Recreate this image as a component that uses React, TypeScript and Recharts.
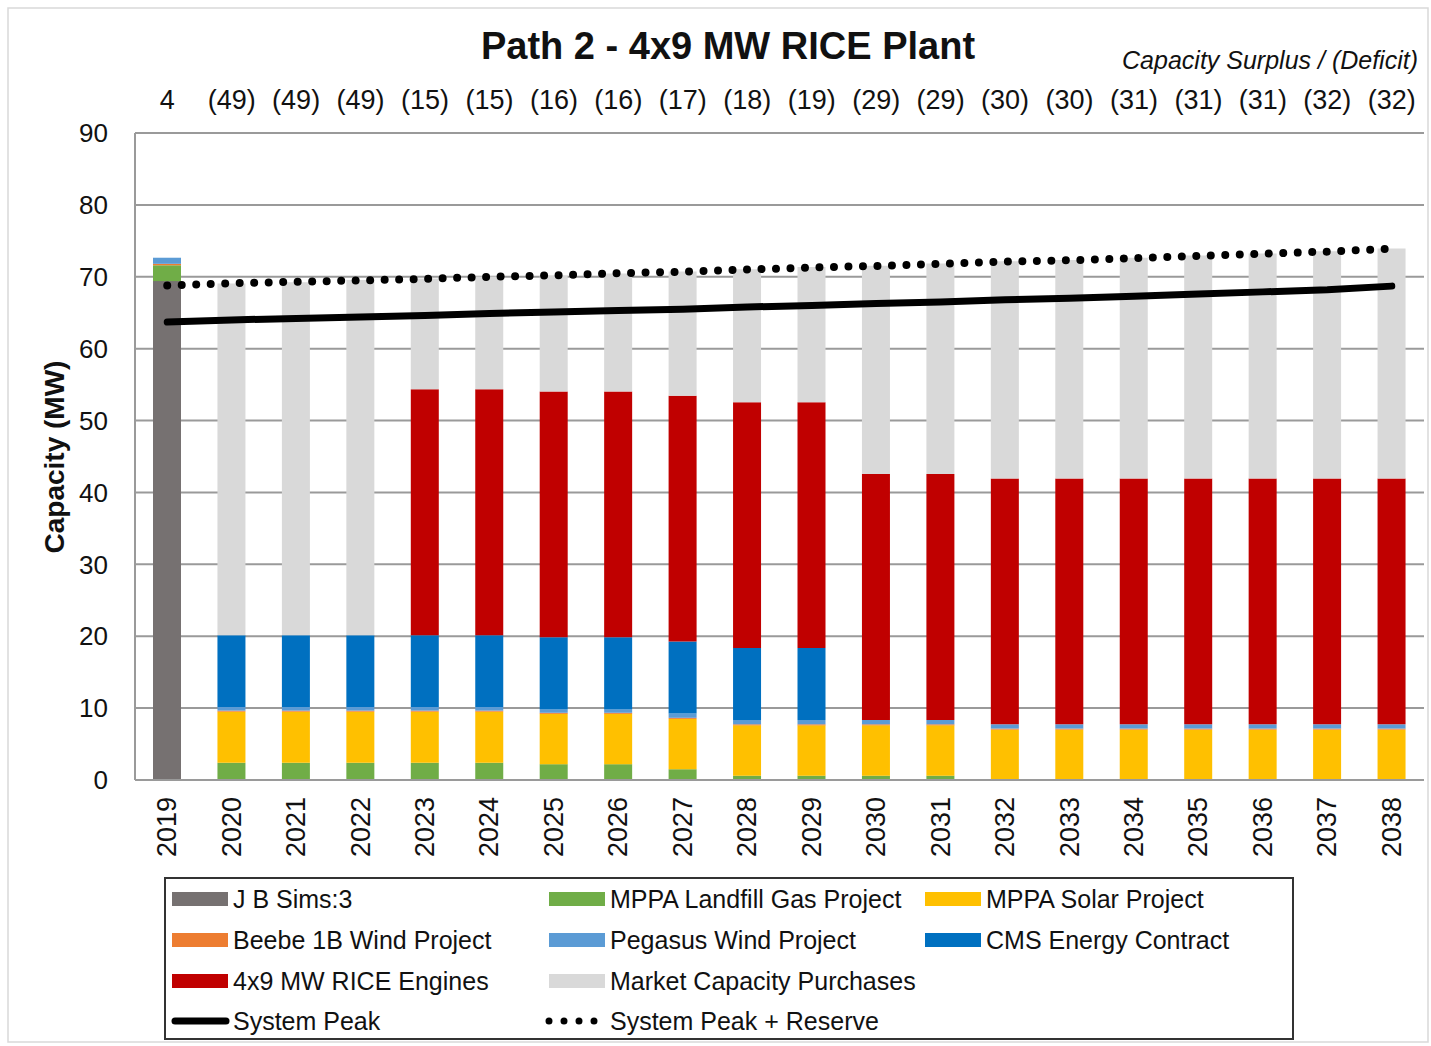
import { ComposedChart, Bar, Line, XAxis, YAxis, CartesianGrid } from "recharts";

const FONT = '"Liberation Sans", Arial, sans-serif';

const years = ["2019", "2020", "2021", "2022", "2023", "2024", "2025", "2026", "2027", "2028", "2029", "2030", "2031", "2032", "2033", "2034", "2035", "2036", "2037", "2038"];
const surplusLabels = ["4", "(49)", "(49)", "(49)", "(15)", "(15)", "(16)", "(16)", "(17)", "(18)", "(19)", "(29)", "(29)", "(30)", "(30)", "(31)", "(31)", "(31)", "(32)", "(32)"];

const jbSims = [69.4, 0, 0, 0, 0, 0, 0, 0, 0, 0, 0, 0, 0, 0, 0, 0, 0, 0, 0, 0];
const landfill = [2.2, 2.4, 2.4, 2.4, 2.4, 2.4, 2.2, 2.2, 1.5, 0.6, 0.6, 0.6, 0.6, 0, 0, 0, 0, 0, 0, 0];
const solar = [0, 7.1, 7.1, 7.1, 7.1, 7.1, 7.0, 7.0, 7.0, 7.0, 7.0, 7.0, 7.0, 7.0, 7.0, 7.0, 7.0, 7.0, 7.0, 7.0];
const beebe = [0.2, 0.15, 0.15, 0.15, 0.15, 0.15, 0.15, 0.15, 0.15, 0.15, 0.15, 0.15, 0.15, 0.15, 0.15, 0.15, 0.15, 0.15, 0.15, 0.15];
const pegasus = [0.85, 0.5, 0.5, 0.5, 0.5, 0.5, 0.5, 0.5, 0.6, 0.6, 0.6, 0.6, 0.6, 0.6, 0.6, 0.6, 0.6, 0.6, 0.6, 0.6];
const cms = [0, 10, 10, 10, 10, 10, 10, 10, 10, 10, 10, 0, 0, 0, 0, 0, 0, 0, 0, 0];
const rice = [0, 0, 0, 0, 34.2, 34.2, 34.2, 34.2, 34.2, 34.2, 34.2, 34.2, 34.2, 34.2, 34.2, 34.2, 34.2, 34.2, 34.2, 34.2];
const market = [0, 48.9, 49.1, 49.4, 15.4, 15.7, 16.1, 16.4, 17.3, 18.5, 18.8, 29.0, 29.3, 30.2, 30.4, 30.7, 31.0, 31.3, 31.6, 32.0];
const systemPeak = [63.7, 64.0, 64.2, 64.4, 64.6, 64.9, 65.1, 65.3, 65.5, 65.8, 66.0, 66.3, 66.5, 66.8, 67.0, 67.3, 67.6, 67.9, 68.2, 68.7];
const peakReserve = [68.8, 69.1, 69.3, 69.5, 69.7, 70.0, 70.2, 70.5, 70.7, 71.0, 71.3, 71.5, 71.8, 72.1, 72.3, 72.6, 72.9, 73.2, 73.5, 73.9];

const yTicks = [0, 10, 20, 30, 40, 50, 60, 70, 80, 90];

const barSeries = [
  { key: "jbSims", name: "J B Sims:3", color: "#767171" },
  { key: "landfill", name: "MPPA Landfill Gas Project", color: "#70AD47" },
  { key: "solar", name: "MPPA Solar Project", color: "#FFC000" },
  { key: "beebe", name: "Beebe 1B Wind Project", color: "#ED7D31" },
  { key: "pegasus", name: "Pegasus Wind Project", color: "#5B9BD5" },
  { key: "cms", name: "CMS Energy Contract", color: "#0070C0" },
  { key: "rice", name: "4x9 MW RICE Engines", color: "#C00000" },
  { key: "market", name: "Market Capacity Purchases", color: "#D9D9D9" },
];

const chartData = years.map((year, i) => ({
  year,
  jbSims: jbSims[i],
  landfill: landfill[i],
  solar: solar[i],
  beebe: beebe[i],
  pegasus: pegasus[i],
  cms: cms[i],
  rice: rice[i],
  market: market[i],
  systemPeak: systemPeak[i],
  peakReserve: peakReserve[i],
}));

const YearTick = (props: any) => {
  const { x, y, payload } = props;
  return (
    <text
      x={x}
      y={y}
      transform={`rotate(-90, ${x}, ${y})`}
      textAnchor="end"
      dominantBaseline="central"
      fontSize={27}
      fontFamily={FONT}
      fill="#111"
    >
      {payload.value}
    </text>
  );
};

function Legend() {
  const colX = [172, 549, 925];
  const rowY = [899, 940, 981, 1021];
  // bar items flow 3 per row, the two lines get their own row
  const barPos = barSeries.map((s, i) => ({ ...s, col: i % 3, row: Math.floor(i / 3) }));
  return (
    <g fontFamily={FONT} fontSize={25} fill="#111">
      <rect x={165} y={878} width={1128} height={161} fill="#fff" stroke="#333" strokeWidth={2} />
      {barPos.map((s) => (
        <g key={s.key}>
          <rect x={colX[s.col]} y={rowY[s.row] - 7} width={56} height={14} fill={s.color} />
          <text x={colX[s.col] + 61} y={rowY[s.row]} dominantBaseline="central">{s.name}</text>
        </g>
      ))}
      <line x1={colX[0] + 3} x2={colX[0] + 54} y1={rowY[3]} y2={rowY[3]} stroke="#000" strokeWidth={7} strokeLinecap="round" />
      <text x={colX[0] + 61} y={rowY[3]} dominantBaseline="central">System Peak</text>
      <line x1={colX[1]} x2={colX[1] + 56} y1={rowY[3]} y2={rowY[3]} stroke="#000" strokeWidth={7} strokeLinecap="round" strokeDasharray="0 15" />
      <text x={colX[1] + 61} y={rowY[3]} dominantBaseline="central">System Peak + Reserve</text>
    </g>
  );
}

export default function App() {
  return (
    <div style={{ position: "absolute", left: 0, top: 0, width: 1431, height: 1046, background: "#fff" }}>
      <ComposedChart
        width={1431}
        height={1046}
        data={chartData}
        margin={{ top: 73, right: 7, left: 0, bottom: 0 }}
        style={{ position: "absolute", left: 0, top: 0 }}
      >
        <CartesianGrid vertical={false} stroke="#9a9a9a" strokeWidth={2} />
        <XAxis
          dataKey="year"
          interval={0}
          height={266}
          tick={<YearTick />}
          tickLine={false}
          tickSize={0}
          tickMargin={17}
          axisLine={{ stroke: "#9a9a9a", strokeWidth: 2 }}
        />
        <XAxis
          xAxisId="top"
          dataKey="year"
          orientation="top"
          interval={0}
          height={60}
          tickFormatter={(_v: string, i: number) => surplusLabels[i]}
          tick={{ fontSize: 27, fill: "#111", fontFamily: FONT }}
          tickLine={false}
          tickSize={0}
          tickMargin={24}
          axisLine={false}
        />
        <YAxis
          domain={[0, 90]}
          ticks={yTicks}
          width={135}
          tick={{ fontSize: 26, fill: "#111", fontFamily: FONT }}
          tickLine={false}
          tickSize={0}
          tickMargin={27}
          axisLine={{ stroke: "#9a9a9a", strokeWidth: 2 }}
        />
        <YAxis
          yAxisId="right"
          orientation="right"
          domain={[0, 90]}
          width={0}
          tick={false}
          tickLine={false}
          axisLine={{ stroke: "#9a9a9a", strokeWidth: 2 }}
        />
        {barSeries.map((s) => (
          <Bar key={s.key} dataKey={s.key} name={s.name} stackId="a" fill={s.color} barSize={28} isAnimationActive={false} />
        ))}
        <Line type="linear" dataKey="systemPeak" name="System Peak" stroke="#000" strokeWidth={7} strokeLinecap="round" dot={false} isAnimationActive={false} />
        <Line type="linear" dataKey="peakReserve" name="System Peak + Reserve" stroke="#000" strokeWidth={8} strokeLinecap="round" strokeDasharray="0 14.5" dot={false} isAnimationActive={false} />
      </ComposedChart>
      <svg width={1431} height={1046} style={{ position: "absolute", left: 0, top: 0, pointerEvents: "none" }}>
        <rect x={8} y={8} width={1420} height={1034} fill="none" stroke="#d9d9d9" strokeWidth={1.5} />
        <text x={728} y={59} textAnchor="middle" fontFamily={FONT} fontSize={38} fontWeight="bold" fill="#111">
          Path 2 - 4x9 MW RICE Plant
        </text>
        <text x={1418} y={69} textAnchor="end" fontFamily={FONT} fontSize={25} fontStyle="italic" fill="#111">
          Capacity Surplus / (Deficit)
        </text>
        <text
          x={0}
          y={0}
          transform="translate(64, 457) rotate(-90)"
          textAnchor="middle"
          fontFamily={FONT}
          fontSize={28}
          fontWeight="bold"
          fill="#111"
        >
          Capacity (MW)
        </text>
        <Legend />
      </svg>
    </div>
  );
}
